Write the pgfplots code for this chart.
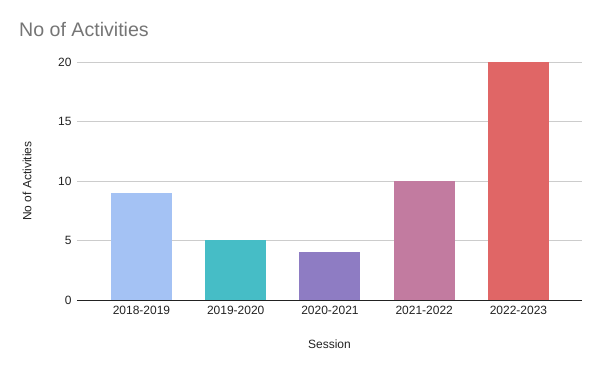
\documentclass[border=0pt]{standalone}
\usepackage{pgfplots}
\pgfplotsset{compat=1.18}
\usepackage{fontspec}
\setmainfont{Liberation Sans}
\definecolor{titlegray}{HTML}{757575}
\definecolor{txt}{HTML}{222222}
\definecolor{gridc}{HTML}{CCCCCC}
\definecolor{cA}{HTML}{A4C2F4}
\definecolor{cB}{HTML}{46BDC6}
\definecolor{cC}{HTML}{8E7CC3}
\definecolor{cD}{HTML}{C27BA0}
\definecolor{cE}{HTML}{E06666}
\begin{document}
\begin{tikzpicture}[x=1pt,y=1pt]
\useasboundingbox (0,0) rectangle (600,371);
\node[anchor=base west, inner sep=0pt, text=titlegray, font=\fontsize{19.6}{22}\selectfont] at (19,334) {No of Activities};
\begin{axis}[
  at={(77pt,71pt)}, anchor=south west,
  scale only axis, width=505pt, height=238pt,
  xmin=-0.684, xmax=4.674, ymin=0, ymax=20,
  ytick={0,5,10,15,20},
  xtick={0,1,2,3,4},
  xticklabels={2018-2019,2019-2020,2020-2021,2021-2022,2022-2023},
  ymajorgrids, grid style={gridc, line width=0.8pt},
  axis x line*=bottom, axis y line*=left,
  y axis line style={draw=none},
  x axis line style={draw=txt, line width=0.9pt, -},
  major tick length=0pt,
  tick label style={font=\fontsize{12}{14}\selectfont, text=txt},
  /pgf/number format/assume math mode=true,
  yticklabel style={xshift=-2pt},
  xticklabel style={yshift=-3pt},
  label style={font=\fontsize{12}{14}\selectfont, text=txt},
  xlabel={Session},
  ylabel={No of Activities},
  xlabel style={at={(axis description cs:0.5,0)}, anchor=base, yshift=-49pt},
  ylabel style={at={(axis description cs:-0.099,0.5)}, anchor=center},
  ybar, bar width=61pt, bar shift=0pt,
  every axis plot/.append style={draw=none},
]
\addplot[fill=cA] coordinates {(0,9)};
\addplot[fill=cB] coordinates {(1,5)};
\addplot[fill=cC] coordinates {(2,4)};
\addplot[fill=cD] coordinates {(3,10)};
\addplot[fill=cE] coordinates {(4,20)};
\end{axis}
\end{tikzpicture}
\end{document}
